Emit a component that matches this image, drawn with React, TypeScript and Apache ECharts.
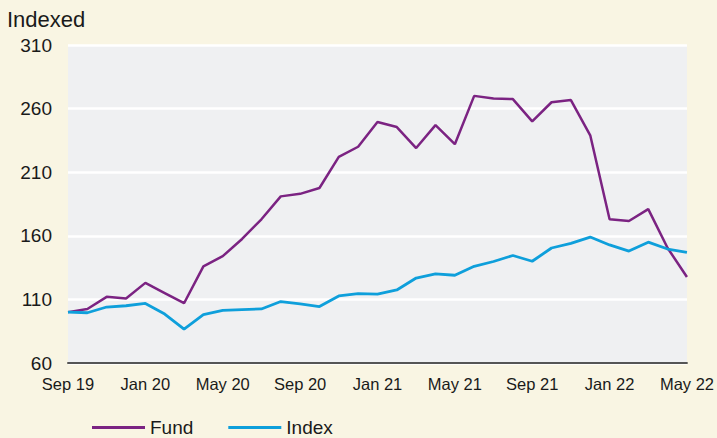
import React, { useEffect, useRef } from "react";
import * as echarts from "echarts";

const months = [
  "Sep 19","Oct 19","Nov 19","Dec 19","Jan 20","Feb 20","Mar 20","Apr 20","May 20","Jun 20","Jul 20","Aug 20",
  "Sep 20","Oct 20","Nov 20","Dec 20","Jan 21","Feb 21","Mar 21","Apr 21","May 21","Jun 21","Jul 21","Aug 21",
  "Sep 21","Oct 21","Nov 21","Dec 21","Jan 22","Feb 22","Mar 22","Apr 22","May 22",
];

const fund = [
  100, 102.5, 112, 110.7, 123, 115, 107, 136, 144, 157.5, 173, 191,
  193, 197.6, 222, 230, 249.5, 245.5, 229, 247, 232, 270, 268, 267.5,
  250, 265, 266.7, 239, 173, 171.6, 181, 150.4, 127.6,
];

const index = [
  100, 99.5, 104, 105, 106.8, 98.5, 86.7, 98, 101.3, 102, 102.5, 108.3,
  106.4, 104.4, 112.7, 114.6, 114.2, 117.4, 126.8, 130, 129, 136, 139.8, 144.5,
  140, 150.4, 154, 159, 152.8, 148, 155, 149.6, 147,
];

const yTicks = [60, 110, 160, 210, 260, 310];

const FONT = "'Liberation Sans', Arial, Helvetica, sans-serif";

export default function App() {
  const ref = useRef<HTMLDivElement>(null);
  useEffect(() => {
    if (!ref.current) return;
    const chart = echarts.init(ref.current, undefined, { renderer: "svg" });
    chart.setOption({
      animation: false,
      backgroundColor: "#f9f5e3",
      textStyle: { fontFamily: FONT },
      title: {
        text: "Indexed",
        left: 7,
        top: 8,
        padding: 0,
        textStyle: { fontFamily: FONT, fontSize: 22, fontWeight: "normal", color: "#1a1a1a" },
      },
      grid: {
        left: 68,
        right: 27,
        top: 45,
        bottom: 75,
        show: true,
        backgroundColor: "#eff0f2",
        borderWidth: 0,
      },
      legend: {
        left: 92,
        top: 418,
        padding: 0,
        icon: "rect",
        itemWidth: 53,
        itemHeight: 3,
        itemGap: 35,
        textStyle: { fontFamily: FONT, fontSize: 19, color: "#1a1a1a" },
        data: ["Fund", "Index"],
      },
      xAxis: {
        type: "category",
        data: months,
        boundaryGap: false,
        axisLine: { show: true, lineStyle: { color: "#555555", width: 2 } },
        axisTick: { show: false },
        splitLine: { show: false },
        axisLabel: {
          interval: 3,
          color: "#1a1a1a",
          fontSize: 16.5,
          fontFamily: FONT,
          margin: 12,
        },
      },
      yAxis: {
        type: "value",
        min: yTicks[0],
        max: yTicks[yTicks.length - 1],
        interval: 50,
        axisLine: { show: false },
        axisTick: { show: false },
        splitLine: { show: true, lineStyle: { color: "#ffffff", width: 2.5 } },
        axisLabel: {
          color: "#1a1a1a",
          fontSize: 19,
          fontFamily: FONT,
          margin: 16,
        },
      },
      series: [
        {
          name: "Fund",
          type: "line",
          data: fund,
          symbol: "none",
          lineStyle: { color: "#7b2382", width: 2.5 },
          itemStyle: { color: "#7b2382" },
        },
        {
          name: "Index",
          type: "line",
          data: index,
          symbol: "none",
          lineStyle: { color: "#0e9fdb", width: 2.8 },
          itemStyle: { color: "#0e9fdb" },
        },
      ],
    });
    return () => chart.dispose();
  }, []);
  return <div ref={ref} style={{ width: 717, height: 438, position: "absolute", left: 0, top: 0 }} />;
}
